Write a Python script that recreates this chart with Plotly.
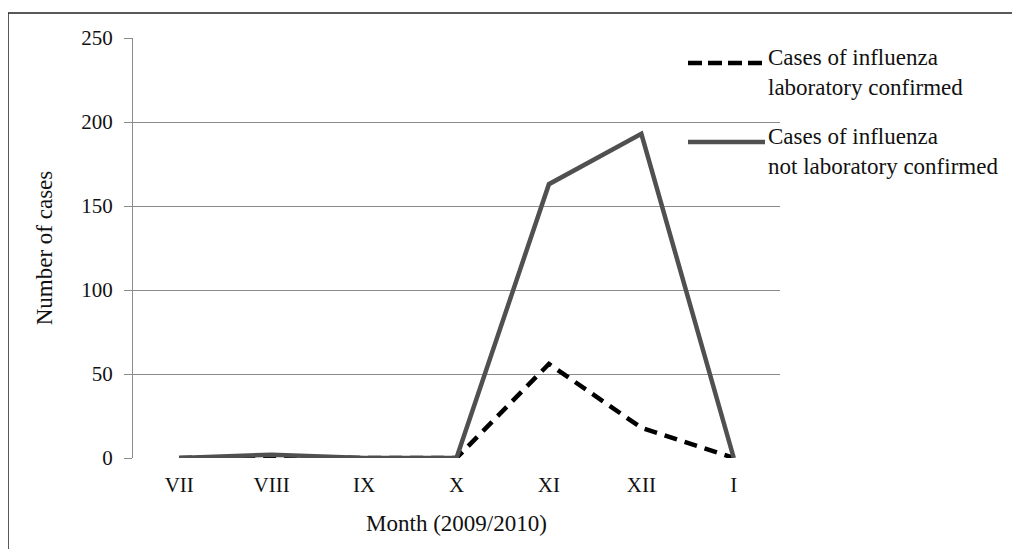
import plotly.graph_objects as go

months = ["VII", "VIII", "IX", "X", "XI", "XII", "I"]
lab_confirmed = [0, 1, 0, 0, 56, 18, 0]
not_lab_confirmed = [0, 2, 0, 0, 163, 193, 0]
series_names = ["Cases of influenza<br>laboratory confirmed",
                "Cases of influenza<br>not laboratory confirmed"]
y_ticks = [0, 50, 100, 150, 200, 250]

OFF = 8  # browser body margin
W, H = 1020 - OFF, 549 - OFF
L, R, T, B = 133 - OFF, 1020 - 780, 38 - OFF, 549 - 458
pw, ph = W - L - R, H - T - B

def px(x):
    return (x - OFF - L) / pw

def py(y):
    return (T + ph - (y - OFF)) / ph

FONT = "Liberation Serif"

fig = go.Figure()
fig.add_trace(go.Scatter(x=months, y=lab_confirmed, mode="lines",
                         line=dict(color="#000000", width=4.5, dash="13px,8px"),
                         name=series_names[0], showlegend=False))
fig.add_trace(go.Scatter(x=months, y=not_lab_confirmed, mode="lines",
                         line=dict(color="#505050", width=4.5),
                         name=series_names[1], showlegend=False))

# custom legend
legend_y = [63, 142]
legend_dash = ["14px,6px", "solid"]
legend_col = ["#000000", "#505050"]
for i in range(2):
    fig.add_shape(type="line", xref="paper", yref="paper",
                  x0=px(688), x1=px(765), y0=py(legend_y[i]), y1=py(legend_y[i]),
                  line=dict(color=legend_col[i], width=4.5, dash=legend_dash[i]))
    fig.add_annotation(xref="paper", yref="paper", x=px(766),
                       y=py(legend_y[i] - 20),
                       xanchor="left", yanchor="top", align="left", showarrow=False,
                       text=series_names[i], font=dict(family=FONT, size=23, color="#111"))

# outer border (top and left)
fig.add_shape(type="line", xref="paper", yref="paper",
              x0=px(8), x1=px(1040), y0=py(13), y1=py(13),
              line=dict(color="#222", width=1.5))
fig.add_shape(type="line", xref="paper", yref="paper",
              x0=px(8), x1=px(8), y0=py(13), y1=py(580),
              line=dict(color="#222", width=1.5))

fig.update_layout(
    width=W, height=H,
    margin=dict(l=L, r=R, t=T, b=B),
    paper_bgcolor="white", plot_bgcolor="white",
    font=dict(family=FONT, size=21, color="#111"),
    xaxis=dict(range=[-0.5, 6.5], showgrid=False, showline=False, ticks="",
               ticklabelstandoff=12,
               title=dict(text="Month (2009/2010)", standoff=18,
                          font=dict(family=FONT, size=23)),
               zeroline=False),
    yaxis=dict(range=[0, 250], tickvals=y_ticks, showgrid=True, gridcolor="#8a8a8a",
               gridwidth=1.2, showline=True, linecolor="#8a8a8a", linewidth=1.2,
               ticks="outside", ticklen=8, tickcolor="#8a8a8a",
               ticklabelstandoff=7,
               zeroline=False,
               title=dict(text="Number of cases", standoff=22,
                          font=dict(family=FONT, size=23))),
)

fig.write_html("out.html")
